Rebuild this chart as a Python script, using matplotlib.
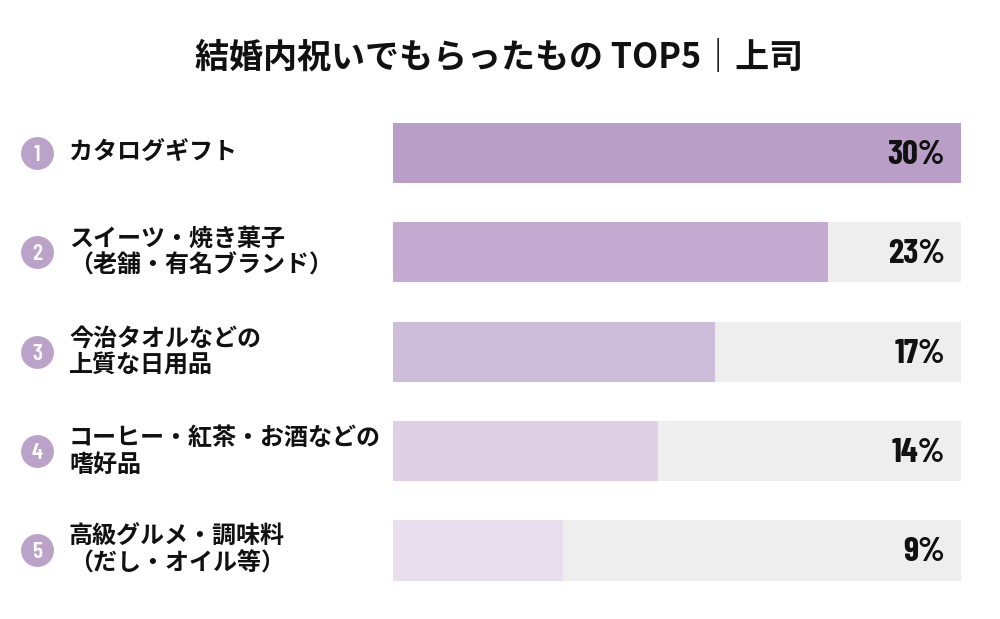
import matplotlib
matplotlib.use("Agg")
import matplotlib.pyplot as plt
import matplotlib.transforms as mtransforms
from matplotlib import font_manager as fm

plt.rcParams['font.family'] = ['Noto Sans CJK JP', 'DejaVu Sans']

title = "結婚内祝いでもらったもの TOP5｜上司"
ranks = ["1", "2", "3", "4", "5"]
labels = [
    "カタログギフト",
    "スイーツ・焼き菓子\n（老舗・有名ブランド）",
    "今治タオルなどの\n上質な日用品",
    "コーヒー・紅茶・お酒などの\n嗜好品",
    "高級グルメ・調味料\n（だし・オイル等）",
]
values = [30, 23, 17, 14, 9]
bar_colors = ["#b99fc7", "#c3aad0", "#cebdd9", "#dfd0e5", "#e9deee"]
track_color = "#eeeeee"
circle_color = "#bba2c9"
xmax = 30

names = {f.name for f in fm.fontManager.ttflist}
cond = 'DejaVu Sans'
for cand in ['Barlow Condensed', 'Roboto Condensed', 'Asap Condensed', 'Archivo Narrow']:
    if cand in names:
        cond = cand
        break

fig = plt.figure(figsize=(10, 6.19), dpi=100)
ax = fig.add_axes([0.393, 0.0304, 0.568, 0.8027])
ax.set_xlim(0, xmax)
ax.set_ylim(len(values) - 0.5, -0.5)
ax.axis('off')

ypos = list(range(len(values)))
h = 0.604
ax.barh(ypos, [xmax] * len(values), height=h, color=track_color, linewidth=0)
ax.barh(ypos, values, height=h, color=bar_colors, linewidth=0)

for y, v in zip(ypos, values):
    ax.text(xmax * (945 - 393) / 568, y + 0.02, f"{v}%", ha='right', va='center',
            fontsize=25, fontweight='bold', family=[cond, 'DejaVu Sans'],
            color='#111111')

trans = mtransforms.blended_transform_factory(fig.transFigure, ax.transData)
ax.scatter([0.037] * len(values), ypos, s=560, color=circle_color,
           transform=trans, clip_on=False, zorder=3, linewidths=0)
for y, r in zip(ypos, ranks):
    ax.text(0.037, y + 0.02, r, transform=trans, ha='center', va='center',
            fontsize=17, fontweight='semibold', color='white',
            family=[cond, 'DejaVu Sans'], zorder=4)
for y, lab in zip(ypos, labels):
    ax.text(0.069, y, lab, transform=trans, ha='left', va='center',
            fontsize=17.3, fontweight='bold', color='#111111',
            linespacing=1.15)

fig.text(0.499, 1 - 57 / 619, title, ha='center', va='center',
         fontsize=24.5, fontweight='bold', color='#111111')

fig.savefig("out.png", dpi=100, facecolor='white')
